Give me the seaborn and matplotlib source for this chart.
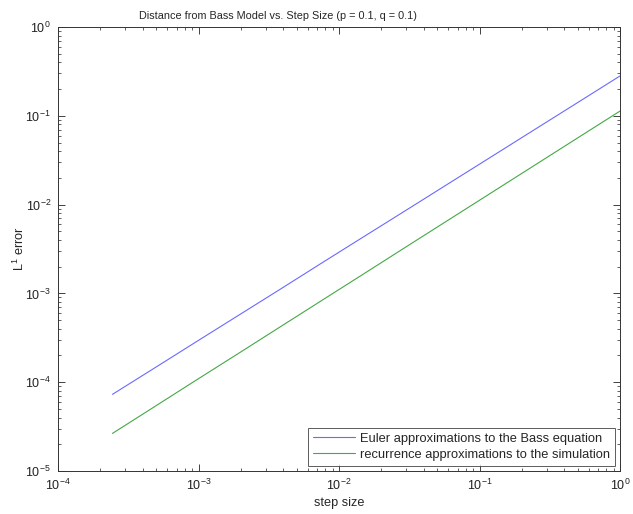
import numpy as np
import pandas as pd
import matplotlib
matplotlib.use("Agg")
import matplotlib.pyplot as plt
import matplotlib.ticker as mticker
import seaborn as sns

step_size = [2**-12, 2**-11, 2**-10, 2**-9, 2**-8, 2**-7, 2**-6, 2**-5,
             2**-4, 2**-3, 2**-2, 2**-1, 1.0]
euler_err = [7.3e-5, 1.45e-4, 2.89e-4, 5.74e-4, 1.14e-3, 2.28e-3, 4.53e-3,
             8.99e-3, 1.79e-2, 3.56e-2, 7.09e-2, 0.141, 0.281]
recur_err = [2.65e-5, 5.32e-5, 1.07e-4, 2.14e-4, 4.30e-4, 8.63e-4, 1.73e-3,
             3.48e-3, 6.98e-3, 1.40e-2, 2.81e-2, 5.64e-2, 0.113]
series_names = ["Euler approximations to the Bass equation",
                "recurrence approximations to the simulation"]
title = "Distance from Bass Model vs. Step Size (p = 0.1, q = 0.1)"

sns.set_style("white")
plt.rcParams['font.family'] = ['Liberation Sans', 'DejaVu Sans']
plt.rcParams['mathtext.default'] = 'regular'
plt.rcParams['axes.unicode_minus'] = False

df = pd.DataFrame({
    "step": step_size * 2,
    "err": euler_err + recur_err,
    "series": [series_names[0]] * len(step_size) + [series_names[1]] * len(step_size),
})

fig = plt.figure(figsize=(6.33, 5.14), dpi=100)
ax = fig.add_axes([58/633, 1 - 471/514, (620-58)/633, (471-27)/514])
sns.lineplot(data=df, x="step", y="err", hue="series",
             palette={series_names[0]: "#6a6aff", series_names[1]: "#45a845"},
             linewidth=0.8, ax=ax, legend=True)
ax.set_xscale("log")
ax.set_yscale("log")
ax.set_xlim(1e-4, 1)
ax.set_ylim(1e-5, 1)

def fmt(v, pos):
    e = int(round(np.log10(v)))
    return "$10^{%d}$" % e

for axis in (ax.xaxis, ax.yaxis):
    axis.set_major_locator(mticker.LogLocator(base=10, numticks=10))
    axis.set_minor_locator(mticker.LogLocator(base=10, subs=np.arange(2, 10), numticks=20))
    axis.set_major_formatter(mticker.FuncFormatter(fmt))
    axis.set_minor_formatter(mticker.NullFormatter())

ax.set_title(title, fontsize=7.8, pad=6, x=(277.5 - 58) / 562)
ax.set_xlabel("step size", fontsize=9.2, labelpad=3)
ax.set_ylabel("L$^1$ error", fontsize=9.2)
ax.yaxis.set_label_coords((27 - 58) / 562, 0.5)
ax.tick_params(which="both", direction="in", top=True, right=True,
               left=True, bottom=True, labelsize=9, colors="#222222", pad=5)
ax.tick_params(which="major", length=5, width=0.6)
ax.tick_params(which="minor", length=2.5, width=0.5)
for s in ax.spines.values():
    s.set_color("#333333")
    s.set_linewidth(0.7)
leg = ax.legend(loc="lower right", fontsize=9.3, frameon=True, fancybox=False,
                edgecolor="#333333", borderaxespad=0.4, handlelength=3.2,
                handletextpad=0.4, borderpad=0.4, labelspacing=0.28)
leg.get_frame().set_linewidth(0.7)
fig.savefig("out.png", dpi=100)
